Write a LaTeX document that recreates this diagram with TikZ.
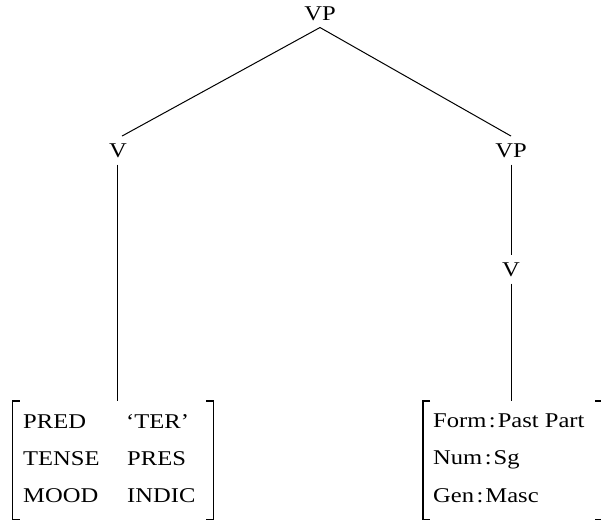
\documentclass[tikz,border=0pt]{standalone}
\usepackage{fontspec}
\setmainfont{Liberation Serif}[FakeStretch=1.17]
\newcommand\fcolon{\kern2.5pt:\kern2pt}
\begin{document}
\begin{tikzpicture}[x=1pt,y=-1pt,
  every node/.style={font=\fontsize{21}{25}\selectfont},
  cat/.style={inner xsep=2pt, inner ysep=7pt, anchor=base},
  feat/.style={inner sep=0pt, anchor=base west},
  branch/.style={line width=1pt},
  bracket/.style={line width=1.7pt},
  fbox/.style={inner sep=0pt, minimum height=118pt}]
\useasboundingbox (0,0) rectangle (601,523);
\clip (0,0) rectangle (601,523);

% tree categories
\node[cat] (vp0) at (320,20) {VP};
\node[cat] (vleft) at (118,157) {V};
\node[cat] (vpright) at (511,157) {VP};
\node[cat] (vright) at (511,276) {V};

% feature boxes
\node[fbox, minimum width=200.5pt, anchor=north west] (lbox) at (12.5,401) {};
\node[fbox, minimum width=179pt, anchor=north west] (rbox) at (423,401) {};

% left box contents
\node[feat] (pred)  at (23,428) {PRED};
\node[feat] (tense) at (23,465) {TENSE};
\node[feat] (mood)  at (23,502) {MOOD};
\node[feat] (ter)   at (126,428) {`TER'};
\node[feat] (pres)  at (127,465) {PRES};
\node[feat] (indic) at (127,502) {INDIC};

% right box contents
\node[feat] (form) at (433,427) {Form\fcolon Past Part};
\node[feat] (num)  at (433,464) {Num\fcolon Sg};
\node[feat] (gen)  at (433,502) {Gen\fcolon Masc};

% branches
\draw[branch] (vp0.south) -- ([xshift=4pt]vleft.north);
\draw[branch] (vp0.south) -- (vpright.north);
\draw[branch] ([xshift=-1pt]vleft.south) -- ([xshift=-1pt]vleft.south |- lbox.north);
\draw[branch] (vpright.south) -- (vright.north);
\draw[branch] (vright.south) -- (vright.south |- rbox.north);

% square brackets
\draw[bracket] ([xshift=7pt]lbox.north west) -- (lbox.north west) -- (lbox.south west) -- ([xshift=7pt]lbox.south west);
\draw[bracket] ([xshift=-7pt]lbox.north east) -- (lbox.north east) -- (lbox.south east) -- ([xshift=-7pt]lbox.south east);
\draw[bracket] ([xshift=7pt]rbox.north west) -- (rbox.north west) -- (rbox.south west) -- ([xshift=7pt]rbox.south west);
\draw[bracket] ([xshift=-7pt]rbox.north east) -- (rbox.north east) -- (rbox.south east) -- ([xshift=-7pt]rbox.south east);
\end{tikzpicture}
\end{document}
